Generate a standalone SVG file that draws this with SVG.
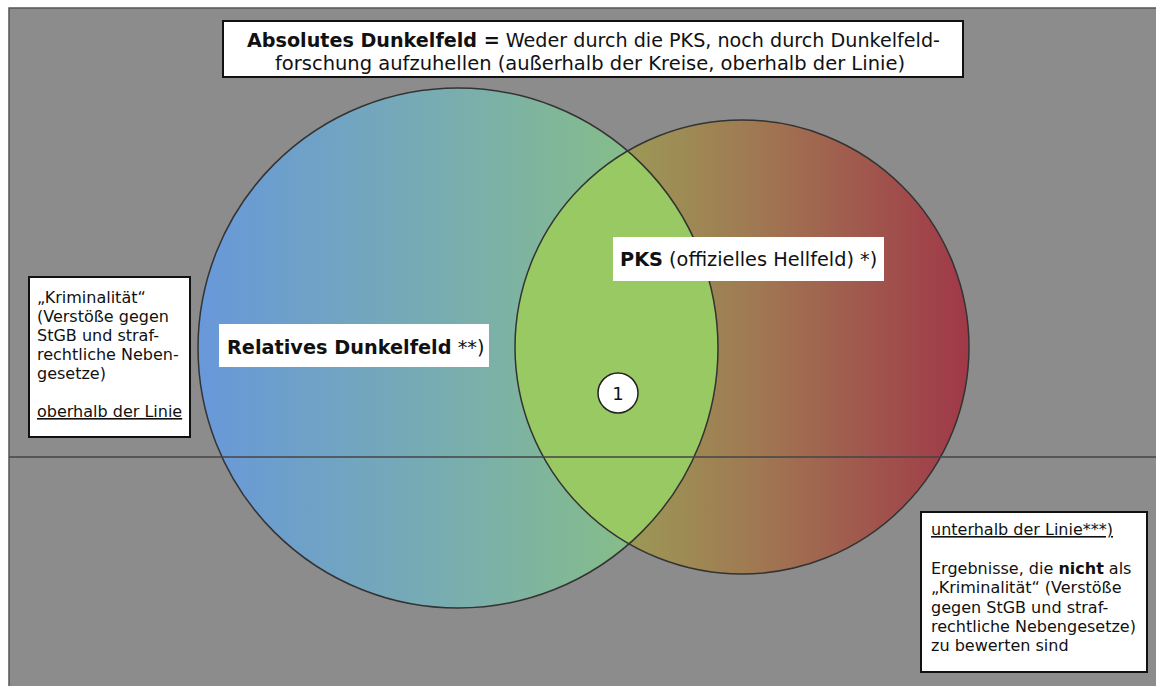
<svg xmlns="http://www.w3.org/2000/svg" width="1156" height="686" viewBox="0 0 1156 686">
<defs>
<linearGradient id="gL" x1="198" y1="0" x2="718" y2="0" gradientUnits="userSpaceOnUse">
<stop offset="0" stop-color="#6898da"/>
<stop offset="0.5" stop-color="#79aeae"/>
<stop offset="1" stop-color="#8cc576"/>
</linearGradient>
<linearGradient id="gR" x1="515" y1="0" x2="969" y2="0" gradientUnits="userSpaceOnUse">
<stop offset="0" stop-color="#98a850"/>
<stop offset="0.25" stop-color="#9c9856"/>
<stop offset="0.55" stop-color="#a07652"/>
<stop offset="1" stop-color="#a03848"/>
</linearGradient>
<clipPath id="cL"><circle cx="458" cy="348" r="260"/></clipPath>
<style>
.box{fill:#fff;stroke:#111;stroke-width:2}
.lbl{fill:#fff}
.t{font-family:"DejaVu Sans","Liberation Sans",sans-serif;fill:#111}
.ring{fill:none;stroke:#333;stroke-width:1.5}
</style>
</defs>
<rect x="0" y="0" width="1156" height="686" fill="#fff"/>
<rect x="9" y="8" width="1150" height="682" fill="#8c8c8c" stroke="#555" stroke-width="1.5"/>
<g id="circles">
<circle id="left-circle" cx="458" cy="348" r="260" fill="url(#gL)"/>
<circle id="right-circle" cx="742" cy="347" r="227" fill="url(#gR)"/>
<circle id="intersection" cx="742" cy="347" r="227" fill="#98c963" clip-path="url(#cL)"/>
<circle cx="458" cy="348" r="260" class="ring"/>
<circle cx="742" cy="347" r="227" class="ring"/>
</g>
<g id="connectors">
<line x1="9" y1="457" x2="1156" y2="457" stroke="#444" stroke-width="1.5"/>
</g>
<g id="top-box">
<rect class="box" x="223" y="21" width="740" height="56"/>
<text class="t" font-size="19" x="247" y="47" textLength="693" lengthAdjust="spacingAndGlyphs"><tspan font-weight="bold">Absolutes Dunkelfeld =</tspan> Weder durch die PKS, noch durch Dunkelfeld-</text>
<text class="t" font-size="19" x="275" y="70" textLength="630" lengthAdjust="spacingAndGlyphs">forschung aufzuhellen (außerhalb der Kreise, oberhalb der Linie)</text>
</g>
<g id="left-box">
<rect class="box" x="29" y="277" width="161" height="160"/>
<text class="t" font-size="16">
<tspan x="37" y="303">„Kriminalität“</tspan>
<tspan x="37" y="322">(Verstöße gegen</tspan>
<tspan x="37" y="341">StGB und straf-</tspan>
<tspan x="37" y="360">rechtliche Neben-</tspan>
<tspan x="37" y="379">gesetze)</tspan>
<tspan x="37" y="417" text-decoration="underline">oberhalb der Linie</tspan>
</text>
</g>
<g id="right-box">
<rect class="box" x="921" y="512" width="226" height="160"/>
<text class="t" font-size="16">
<tspan x="931" y="535" text-decoration="underline">unterhalb der Linie***)</tspan>
<tspan x="931" y="574">Ergebnisse, die <tspan font-weight="bold">nicht</tspan> als</tspan>
<tspan x="931" y="593">„Kriminalität“ (Verstöße</tspan>
<tspan x="931" y="613">gegen StGB und straf-</tspan>
<tspan x="931" y="632">rechtliche Nebengesetze)</tspan>
<tspan x="931" y="651">zu bewerten sind</tspan>
</text>
</g>
<g id="pks-label">
<rect class="lbl" x="613" y="237" width="271" height="44"/>
<text class="t" font-size="19.3" x="620" y="266"><tspan font-weight="bold">PKS</tspan> (offizielles Hellfeld) *)</text>
</g>
<g id="relatives-label">
<rect class="lbl" x="219" y="324" width="270" height="43"/>
<text class="t" font-size="19.3" x="227" y="354"><tspan font-weight="bold">Relatives Dunkelfeld</tspan> **)</text>
</g>
<g id="marker-1">
<circle cx="618" cy="393" r="20" fill="#fff" stroke="#222" stroke-width="1.5"/>
<text class="t" font-size="18" x="618" y="400" text-anchor="middle">1</text>
</g>
</svg>
